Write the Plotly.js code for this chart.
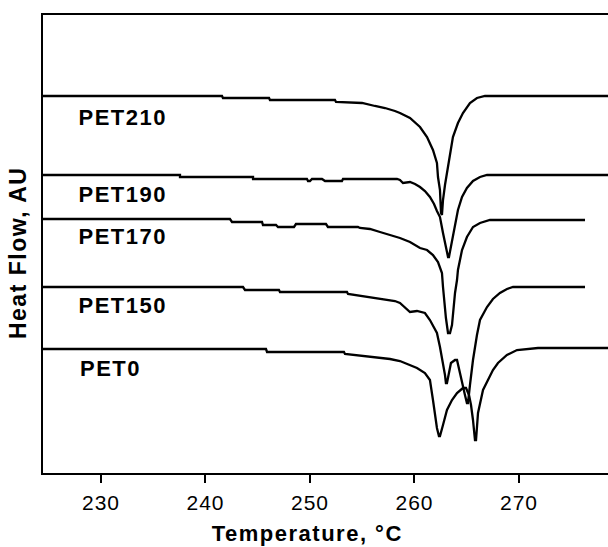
<!DOCTYPE html>
<html>
<head>
<meta charset="utf-8">
<script src="https://cdn.plot.ly/plotly-3.0.1.min.js"></script>
<style>
html,body{margin:0;padding:0;background:#fff;}
#chart{width:608px;height:547px;}
#chart .xtick text{letter-spacing:1px;}
#chart .annotation text{letter-spacing:1.5px;}
</style>
</head>
<body>
<div id="chart"></div>
<script>
// Temperature (°C) and heat flow (AU, offset curves)
const seriesNames = ["PET210", "PET190", "PET170", "PET150", "PET0"];

const temp_PET210 = [224.45, 241.58, 241.67, 246.08, 246.17, 252.39, 252.49, 254.98, 256.22, 257.18, 258.13, 258.61, 259.57, 260.53, 261.20, 261.77, 262.15, 262.25, 262.44, 262.49, 262.54, 262.63, 262.73, 262.92, 263.11, 263.40, 263.68, 264.16, 264.64, 265.31, 265.98, 266.75, 278.52];
const flow_PET210 = [377, 377, 375, 375, 373, 373, 371, 370, 367, 365, 362, 360, 355, 346, 336, 323, 310, 296, 283, 270, 260, 258, 273, 288, 300, 316, 336, 350, 360, 370, 375, 377, 377];

const temp_PET190 = [224.45, 237.56, 237.56, 244.55, 244.55, 249.71, 249.81, 250.00, 250.19, 251.15, 251.44, 253.06, 253.16, 258.33, 258.61, 258.90, 259.57, 260.05, 260.53, 261.00, 261.48, 261.87, 262.15, 262.44, 262.73, 263.01, 263.21, 263.30, 263.49, 263.68, 263.88, 264.16, 264.55, 265.02, 265.60, 266.27, 266.94, 278.52];
const flow_PET190 = [298, 298, 296, 296, 294, 294, 292, 292, 294, 294, 292, 292, 294, 294, 293, 290, 291, 289, 286, 282, 276, 269, 262, 256, 240, 226, 216, 216, 226, 238, 248, 263, 276, 285, 292, 296, 298, 298];

const temp_PET170 = [224.45, 242.34, 242.54, 245.41, 245.50, 246.75, 246.94, 248.47, 248.66, 251.53, 251.72, 254.59, 254.78, 255.74, 256.70, 258.13, 258.61, 259.57, 260.53, 261.20, 261.77, 262.25, 262.63, 262.73, 262.82, 263.01, 263.21, 263.40, 263.59, 263.68, 263.88, 264.07, 264.16, 264.55, 265.02, 265.60, 266.27, 267.22, 276.32];
const flow_PET170 = [254, 254, 251, 251, 248, 248, 246, 246, 249, 249, 246, 246, 245, 244, 241, 237, 235, 231, 225, 223, 218, 211, 200, 186, 173, 155, 140, 140, 148, 160, 180, 193, 203, 223, 236, 246, 250, 253, 253];

const temp_PET150 = [224.45, 243.59, 243.78, 247.03, 247.13, 253.54, 253.64, 255.45, 256.70, 258.13, 258.61, 259.57, 260.24, 261.00, 261.48, 262.15, 262.44, 262.73, 262.92, 263.01, 263.11, 263.49, 263.88, 264.07, 264.35, 264.55, 264.83, 265.02, 265.12, 265.31, 265.60, 265.98, 266.27, 266.94, 267.51, 268.18, 268.85, 269.43, 276.32];
const flow_PET150 = [186, 186, 183, 183, 181, 181, 179, 176, 174, 172, 170, 161, 162, 160, 153, 140, 126, 110, 98, 90, 90, 110, 113, 113, 100, 88, 78, 70, 70, 88, 113, 138, 153, 166, 174, 180, 184, 186, 186];

const temp_PET0 = [224.45, 245.79, 245.89, 253.25, 253.35, 256.22, 257.66, 258.61, 260.24, 261.00, 261.48, 261.77, 261.96, 262.15, 262.34, 262.44, 262.73, 263.11, 263.59, 264.07, 264.64, 264.93, 265.22, 265.41, 265.60, 265.79, 265.89, 266.08, 266.56, 267.03, 267.51, 267.99, 268.85, 269.81, 271.82, 278.52];
const flow_PET0 = [124, 124, 121, 121, 119, 116, 114, 112, 105, 100, 93, 73, 60, 45, 37, 37, 48, 63, 73, 80, 85, 85, 78, 68, 53, 33, 33, 60, 83, 93, 103, 110, 118, 123, 125, 125];

const xTicks = [230, 240, 250, 260, 270];
const xTickText = ["230", "240", "250", "260", "270"];

const temps = [temp_PET210, temp_PET190, temp_PET170, temp_PET150, temp_PET0];
const flows = [flow_PET210, flow_PET190, flow_PET170, flow_PET150, flow_PET0];

const traces = seriesNames.map((n, i) => ({
  x: temps[i], y: flows[i], name: n, type: "scatter", mode: "lines",
  line: {color: "#000", width: 2.3, shape: "linear"}, showlegend: false, hoverinfo: "skip"
}));

const labelY = [0.777, 0.607, 0.517, 0.365, 0.229];
const FONT = "Arial, 'Liberation Sans', sans-serif";
const annotations = seriesNames.map((n, i) => ({
  text: "<b>" + n + "</b>", xref: "paper", yref: "paper", x: 0.068, y: labelY[i],
  xanchor: "left", yanchor: "middle", showarrow: false,
  font: {family: FONT, size: 22, color: "#000"}
}));
annotations.push({
  text: "<b>Heat Flow, AU</b>", xref: "paper", yref: "paper", x: -0.044, y: 0.48,
  textangle: -90, xanchor: "center", yanchor: "middle", showarrow: false,
  font: {family: FONT, size: 23, color: "#000"}
});
annotations.push({
  text: "<b>Temperature, °C</b>", xref: "paper", yref: "paper", x: 0.469, y: -0.133,
  xanchor: "center", yanchor: "middle", showarrow: false,
  font: {family: FONT, size: 22, color: "#000"}
});

const layout = {
  width: 608, height: 547,
  margin: {l: 43, r: 0, t: 15, b: 74},
  paper_bgcolor: "#fff", plot_bgcolor: "#fff",
  xaxis: {
    range: [224.45, 278.52], tickvals: xTicks, ticktext: xTickText,
    ticks: "outside", ticklen: 8, tickwidth: 2, tickcolor: "#000",
    ticklabelstandoff: 2,
    showline: true, linecolor: "#000", linewidth: 2, mirror: true,
    showgrid: false, zeroline: false,
    tickfont: {family: FONT, size: 21, color: "#000"}
  },
  yaxis: {
    range: [0, 458], showticklabels: false, ticks: "",
    showline: true, linecolor: "#000", linewidth: 2, mirror: false,
    showgrid: false, zeroline: false
  },
  annotations: annotations
};

Plotly.newPlot("chart", traces, layout, {staticPlot: true, displayModeBar: false});
</script>
</body>
</html>
